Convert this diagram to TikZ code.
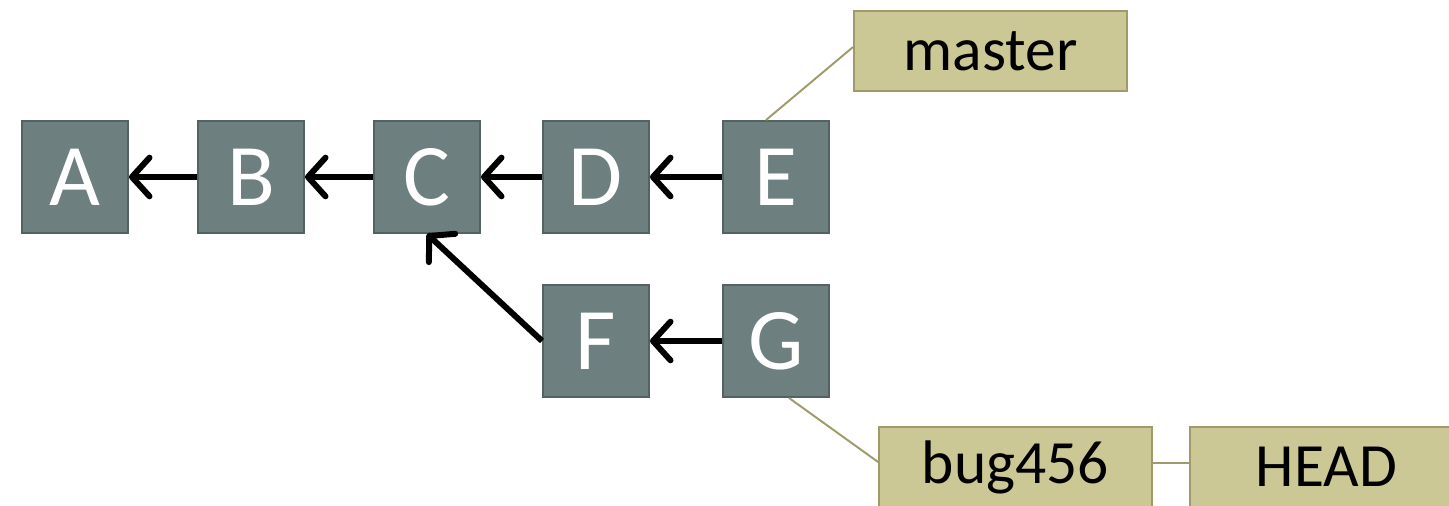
\documentclass[tikz,border=0pt]{standalone}
\usepackage{fontspec}
\setmainfont{Carlito}
\usetikzlibrary{arrows.meta, positioning}
\definecolor{CommitGray}{RGB}{110, 127, 128}
\definecolor{CommitEdge}{RGB}{84, 98, 99}
\definecolor{RefTan}{RGB}{204, 200, 150}
\definecolor{RefEdge}{RGB}{158, 154, 106}

\tikzset{
    commit/.style={rectangle, fill=CommitGray, draw=CommitEdge, line width=1.1pt,
                   minimum width=2.12cm, minimum height=2.24cm, inner sep=0pt,
                   text=white, font=\fontsize{50}{52}\selectfont},
    branchref/.style={rectangle, fill=RefTan, draw=RefEdge, line width=1.1pt,
                   minimum width=5.46cm, minimum height=1.6cm, inner sep=0pt,
                   text=black, font=\fontsize{35}{38}\selectfont},
    parent/.style={-{Straight Barb[length=10pt, width=22pt, round]}, line width=3.4pt, black},
    pointer/.style={RefEdge, line width=1.1pt}
}

\begin{document}
\begin{tikzpicture}[x=0.02cm, y=-0.02cm]
    % Fix the page size to the reference
    \useasboundingbox (0,0) rectangle (1449,506);

    % Commits along the main line
    \foreach \name/\x in {A/75, B/251, C/427, D/596, E/776} {
        \node[commit] (\name) at (\x,177) {\name};
    }

    % Commits on the bug branch
    \node[commit] (F) at (596,341) {F};
    \node[commit] (G) at (776,341) {G};

    % Branch labels
    \node[branchref] (master) at (990.5,51) {master};
    \node[branchref] (bug) at (1015.5,467) {bug456};
    \node[branchref] (head) at (1326.5,467) {HEAD};

    % Parent links
    \draw[parent] (B) -- (A);
    \draw[parent] (C) -- (B);
    \draw[parent] (D) -- (C);
    \draw[parent] (E) -- (D);
    \draw[parent] (G) -- (F);
    \draw[parent] (F.west) -- (C.south);

    % Label pointers
    \draw[pointer] ([xshift=-10*0.02cm]E.north) -- ([yshift=4*0.02cm]master.west);
    \draw[pointer] ([xshift=13*0.02cm]G.south) -- ([yshift=5*0.02cm]bug.west);
    \draw[pointer] ([yshift=4*0.02cm]bug.east) -- ([yshift=4*0.02cm]head.west);
\end{tikzpicture}
\end{document}
